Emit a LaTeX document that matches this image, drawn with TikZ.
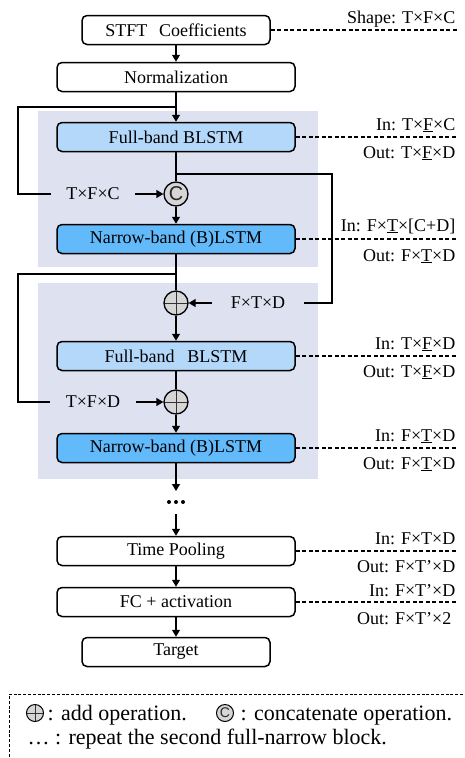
\documentclass[tikz,border=0pt]{standalone}
\usepackage{fontspec}
\setmainfont{Liberation Serif}
\usetikzlibrary{arrows.meta}
\definecolor{bgblock}{HTML}{DEE1F0}
\definecolor{fullblue}{HTML}{B4D8FA}
\definecolor{narrowblue}{HTML}{62BAFB}
\definecolor{opgray}{HTML}{D6D6D6}
\newfontfamily\csymfont{Liberation Sans}
\begin{document}
\begin{tikzpicture}[x=1pt,y=-1pt,
  font=\fontsize{18}{21}\selectfont,
  line width=1.3pt,
  >={Triangle[length=7pt,width=8pt]},
  box/.style={draw, rounded corners=5pt, line width=1.5pt, minimum height=29pt, inner sep=0pt},
  wbox/.style={box, fill=white, minimum width=238pt},
  sbox/.style={box, fill=white, minimum width=188pt},
  fbox/.style={box, fill=fullblue, minimum width=238pt},
  nbox/.style={box, fill=narrowblue, minimum width=238pt},
  opc/.style={circle, draw, fill=opgray, minimum size=24pt, inner sep=0pt, line width=1.3pt},
  catsym/.style={opc, font=\csymfont\fontsize{20}{20}\selectfont, text=black!85},
  plussym/.style={opc, path picture={
      \draw[line width=0.9pt, black!80] (path picture bounding box.north) -- (path picture bounding box.south);
      \draw[line width=0.9pt, black!80] (path picture bounding box.west) -- (path picture bounding box.east);}},
  dashline/.style={dash pattern=on 4pt off 2.5pt, line width=1.2pt},
  lab/.style={anchor=base east, inner sep=0pt},
  looplab/.style={inner ysep=0pt, inner xsep=15pt},
]
\useasboundingbox (0,0) rectangle (465,758);

% background blocks
\fill[bgblock] (38,111) rectangle (318,267);
\fill[bgblock] (38,283) rectangle (318,479);

% main nodes
\node[sbox] (stft) at (176,30) {STFT\hspace{0.4em} Coefficients};
\node[wbox] (norm) at (176,77) {Normalization};
\node[fbox] (fb1) at (176,137) {Full-band BLSTM};
\node[catsym] (cat) at (176,194) {C};
\node[nbox] (nb1) at (176,239) {Narrow-band (B)LSTM};
\node[plussym] (add1) at (176,303) {};
\node[fbox] (fb2) at (176,356) {Full-band\hspace{0.45em} BLSTM};
\node[plussym] (add2) at (176,402) {};
\node[nbox] (nb2) at (176,448) {Narrow-band (B)LSTM};
\coordinate (dots) at (176,502);
\node[wbox] (tp) at (176,551) {Time Pooling};
\node[wbox] (fc) at (176,602) {FC + activation};
\node[sbox] (tgt) at (176,652) {Target};

% loop labels
\node[looplab] (lab1) at (93,194) {T×F×C};
\node[looplab] (lab2) at (93,402) {T×F×D};
\node[looplab, inner xsep=18pt] (lab3) at (258,303) {F×T×D};

% helper coordinates
\coordinate (br1) at (176,107);
\coordinate (c1) at (18,107);
\coordinate (c2) at (18,194);
\coordinate (br2) at (176,174);
\coordinate (r1) at (332,174);
\coordinate (r2) at (332,303);
\coordinate (br3) at (176,274);
\coordinate (c3) at (18,274);
\coordinate (c4) at (18,402);
\coordinate (d1) at (176,491);
\coordinate (d2) at (176,514);
\coordinate (rx) at (457,0);

% main flow
\draw[->] (stft) -- (norm);
\draw[->] (norm) -- (fb1);
\draw (fb1) -- (cat);
\draw[->] (cat) -- (nb1);
\draw (nb1) -- (add1);
\draw[->] (add1) -- (fb2);
\draw (fb2) -- (add2);
\draw[->] (add2) -- (nb2);
\draw[->] (nb2) -- (d1);
\draw[->] (d2) -- (tp);
\draw[->] (tp) -- (fc);
\draw[->] (fc) -- (tgt);
\foreach \dx in {-7,0,7} \fill ([xshift=\dx pt]dots) circle (2pt);

% skip connections
\draw[line join=miter] (br1) -- (c1) -- (c2) -- (lab1.west);
\draw[->] (lab1.east) -- (cat.west);
\draw[line join=miter] (br2) -- (r1) -- (r2) -- (lab3.east);
\draw[->] (lab3.west) -- (add1.east);
\draw[line join=miter] (br3) -- (c3) -- (c4) -- (lab2.west);
\draw[->] (lab2.east) -- (add2.west);

% shape annotations
\draw[dashline] (stft.east) -- (stft.east -| rx);
\draw[dashline] (fb1.east) -- (fb1.east -| rx);
\draw[dashline] (nb1.east) -- (nb1.east -| rx);
\draw[dashline] (fb2.east) -- (fb2.east -| rx);
\draw[dashline] (nb2.east) -- (nb2.east -| rx);
\draw[dashline] (tp.east) -- (tp.east -| rx);
\draw[dashline] (fc.east) -- (fc.east -| rx);

\node[lab] (s0) at (456,23) {Shape: T×F×C};
\node[lab] (i1) at (456,130) {In: T×\underline{F}×C};
\node[lab] (o1) at (456,158) {Out: T×\underline{F}×D};
\node[lab] (i2) at (456,231) {In: F×\underline{T}×[C+D]};
\node[lab] (o2) at (456,261) {Out: F×\underline{T}×D};
\node[lab] (i3) at (456,349) {In: T×\underline{F}×D};
\node[lab] (o3) at (456,377) {Out: T×\underline{F}×D};
\node[lab] (i4) at (456,441) {In: F×\underline{T}×D};
\node[lab] (o4) at (456,469) {Out: F×\underline{T}×D};
\node[lab] (i5) at (456,544) {In: F×T×D};
\node[lab] (o5) at (456,572) {Out: F×T’×D};
\node[lab] (i6) at (456,596) {In: F×T’×D};
\node[lab] (o6) at (452,624) {Out: F×T’×2};

% legend
\draw[dash pattern=on 3pt off 1.8pt, line width=0.9pt] (463,694) -- (9,694) -- (9,758);
\node[plussym, minimum size=17pt, line width=1pt] (lgadd) at (35,713) {};
\node[anchor=base west, inner sep=0pt, font=\fontsize{22}{24}\selectfont] (lgaddt) at (47,720) {: add operation.};
\node[catsym, minimum size=17pt, line width=1pt, font=\csymfont\fontsize{14}{14}\selectfont] (lgcat) at (225,713) {C};
\node[anchor=base west, inner sep=0pt, font=\fontsize{22}{24}\selectfont] (lgcatt) at (240,720) {: concatenate operation.};
\node[anchor=base west, inner sep=0pt, font=\fontsize{22}{24}\selectfont] (lgdots) at (27,744) {… : repeat the second full-narrow block.};
\end{tikzpicture}
\end{document}
